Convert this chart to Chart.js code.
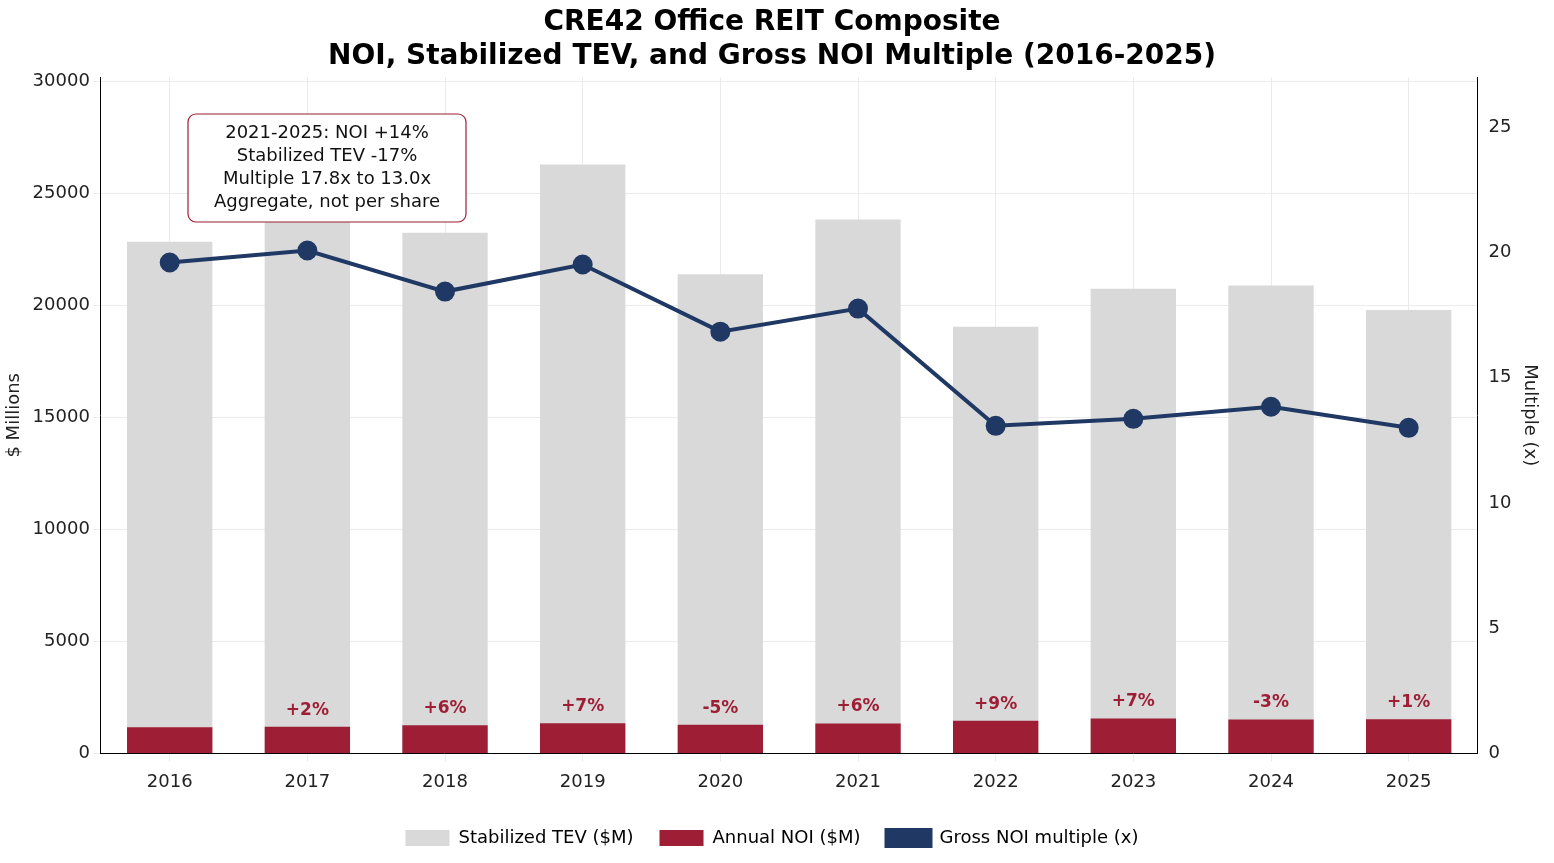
<!DOCTYPE html>
<html><head><meta charset="utf-8">
<script src="https://cdn.jsdelivr.net/npm/chart.js@4/dist/chart.umd.min.js"></script>
<style>html,body{margin:0;background:#fff}#w{width:1554px;height:863px}</style>
</head><body><div id="w"><canvas id="c"></canvas></div>
<script>
const years=['2016','2017','2018','2019','2020','2021','2022','2023','2024','2025'];
const tev=[22850,23900,23250,26300,21400,23850,19050,20750,20900,19800];
const noi=[1166,1190,1260,1348,1281,1340,1460,1562,1515,1530];
const multiple=[19.6,20.08,18.44,19.52,16.84,17.76,13.08,13.36,13.84,13.0];
const growth=['','+2%','+6%','+7%','-5%','+6%','+9%','+7%','-3%','+1%'];
const noteLines=['2021-2025: NOI +14%','Stabilized TEV -17%','Multiple 17.8x to 13.0x','Aggregate, not per share'];
const F='"DejaVu Sans", sans-serif';
const labels={id:'lbl',afterDatasetsDraw(c){const x=c.ctx,m=c.getDatasetMeta(1);x.save();x.font='bold 17px '+F;x.fillStyle='#9e1f35';x.textAlign='center';x.textBaseline='bottom';
m.data.forEach((b,i)=>{if(growth[i])x.fillText(growth[i],b.x,b.y-8);});
const cx=327,lh=23,top=114,w=278,h=108;x.beginPath();x.roundRect(cx-w/2,top,w,h,8);x.fillStyle='#fff';x.fill();x.strokeStyle='#9e1f35';x.lineWidth=1.2;x.stroke();
x.font='18px '+F;x.fillStyle='#111';x.textBaseline='middle';noteLines.forEach((t,i)=>x.fillText(t,cx,top+19+i*lh));x.restore();}};
new Chart(document.getElementById('c'),{data:{labels:years,datasets:[
{type:'line',label:'Gross NOI multiple (x)',data:multiple,yAxisID:'y1',borderColor:'#1f3864',backgroundColor:'#1f3864',borderWidth:4,pointRadius:8,pointHoverRadius:8,order:0},
{type:'bar',label:'Annual NOI ($M)',data:noi,backgroundColor:'#9e1f35',grouped:false,barPercentage:0.62,categoryPercentage:1,order:1},
{type:'bar',label:'Stabilized TEV ($M)',data:tev,backgroundColor:'#d9d9d9',grouped:false,barPercentage:0.62,categoryPercentage:1,order:2}
]},plugins:[labels],options:{responsive:true,maintainAspectRatio:false,animation:false,
layout:{padding:{left:0,right:10,top:0,bottom:6}},
plugins:{title:{display:true,text:['CRE42 Office REIT Composite','NOI, Stabilized TEV, and Gross NOI Multiple (2016-2025)'],font:{family:F,size:28,weight:'bold'},color:'#000',padding:{top:6,bottom:4},lineHeight:1.2},
legend:{position:'bottom',labels:{font:{family:F,size:18},color:'#222',boxWidth:44,boxHeight:16,padding:26,generateLabels(c){return [2,1,0].map(i=>{const d=c.data.datasets[i];return i==0?{text:d.label,fillStyle:'#1f3864',strokeStyle:'#1f3864',lineWidth:4,datasetIndex:i}:{text:d.label,fillStyle:d.backgroundColor,strokeStyle:d.backgroundColor,lineWidth:0,datasetIndex:i};});}}},
tooltip:{enabled:false}},
scales:{x:{grid:{color:'#ebebeb',offset:false},border:{color:'#000'},ticks:{font:{family:F,size:18},color:'#222',padding:10}},
y:{position:'left',min:0,max:30200,afterBuildTicks(a){a.ticks=[0,5000,10000,15000,20000,25000,30000].map(v=>({value:v}));},grid:{color:'#ebebeb'},border:{color:'#000'},ticks:{font:{family:F,size:18},color:'#222',callback:v=>String(v)},title:{display:true,text:'$ Millions',font:{family:F,size:18},color:'#222'}},
y1:{position:'right',min:0,max:27,afterBuildTicks(a){a.ticks=[0,5,10,15,20,25].map(v=>({value:v}));},grid:{display:false},border:{color:'#000'},ticks:{font:{family:F,size:18},color:'#222'},title:{display:true,text:'Multiple (x)',font:{family:F,size:18},color:'#222'}}}}});
</script></body></html>
